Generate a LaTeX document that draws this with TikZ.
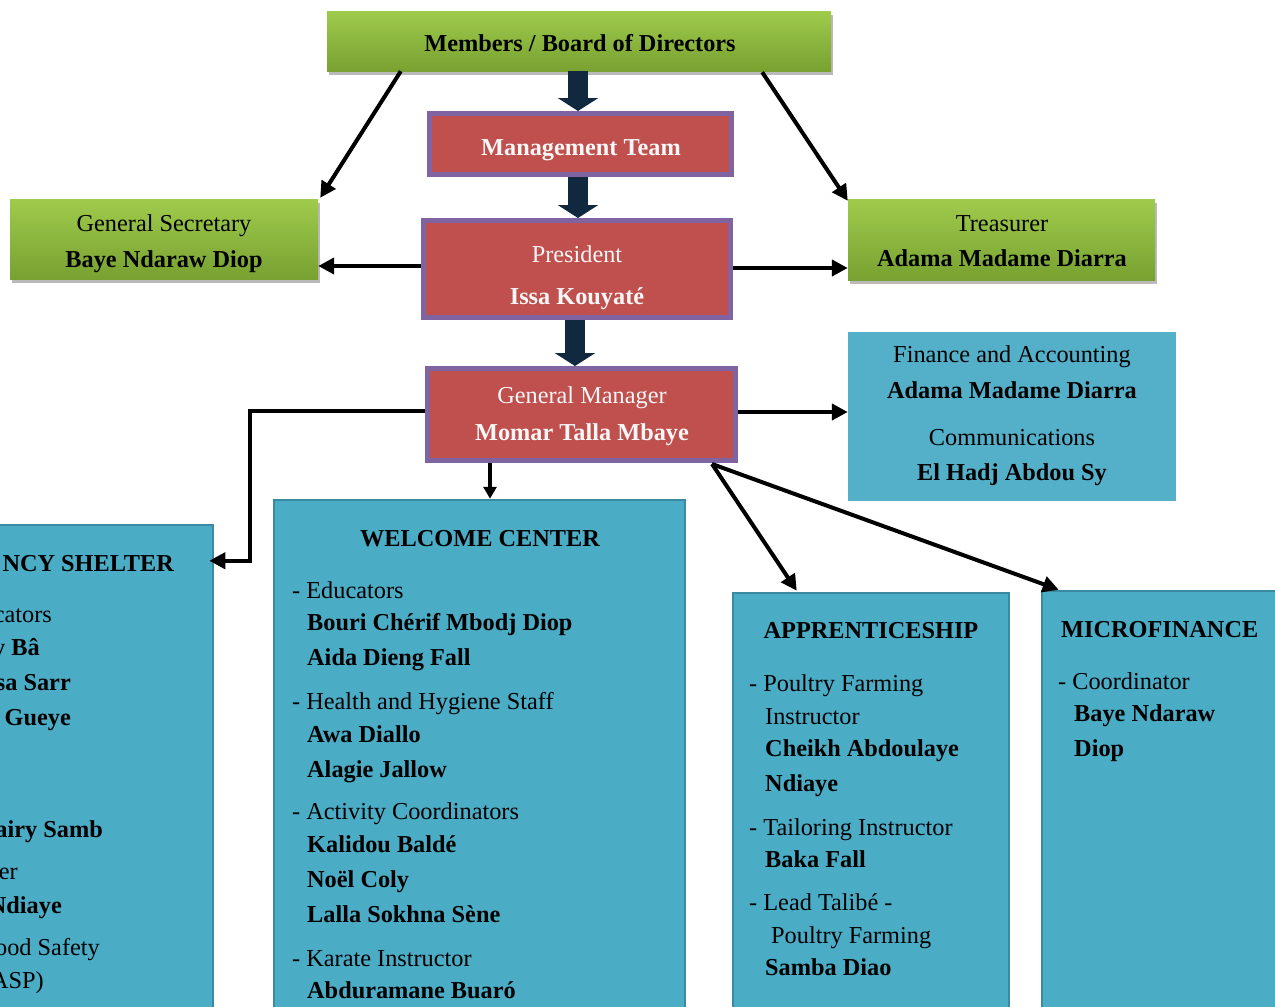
\documentclass[tikz,border=0pt]{standalone}
\usepackage{fontspec}
\setmainfont{Liberation Serif}
\usetikzlibrary{arrows.meta,shadows,calc}
\definecolor{grnTop}{HTML}{9FCB4C}
\definecolor{grnBot}{HTML}{78A131}
\definecolor{redF}{HTML}{C0504D}
\definecolor{purB}{HTML}{8064A2}
\definecolor{tealF}{HTML}{4BACC6}
\definecolor{tealB}{HTML}{3A8BA2}
\definecolor{navy}{HTML}{10293F}
\definecolor{txtW}{HTML}{F7F7F7}
\tikzset{
  greenbox/.style={rectangle, inner sep=0, top color=grnTop, bottom color=grnBot, draw=none,
    drop shadow={shadow xshift=2pt, shadow yshift=-3.5pt, fill=black!45, opacity=.6}},
  redbox/.style={rectangle, inner sep=0, fill=redF, draw=purB, line width=5pt,
    drop shadow={shadow xshift=2pt, shadow yshift=-2.5pt, fill=black!40, opacity=.5}},
  tealbox/.style={rectangle, inner sep=0, fill=tealF, draw=tealB, line width=2.5pt},
  finbox/.style={rectangle, inner sep=0, fill=tealF!95!white, draw=none},
  tn/.style={inner sep=0, anchor=base, font=\fontsize{24.3}{29}\selectfont},
  tb/.style={tn, font=\fontsize{24.3}{29}\selectfont\bfseries},
  lw/.style={anchor=base west},
  le/.style={anchor=base east},
  blk/.style={draw=navy, line width=20pt, -{Triangle[length=13pt,width=40pt]}},
  conn/.style={draw=black, line width=4pt, -{Triangle[length=16pt,width=16pt]}},
  thinconn/.style={draw=black, line width=3.2pt, -{Triangle[length=12pt,width=13pt]}},
}
\begin{document}
\begin{tikzpicture}[x=1pt,y=-1pt]
\useasboundingbox (0,0) rectangle (1275,1007);
\clip (0,0) rectangle (1275,1007);
% ---------- boxes ----------
\node[greenbox, minimum width=504pt, minimum height=60pt] (members) at (579,41) {};
\node[redbox, minimum width=302pt, minimum height=61pt] (mgmt) at (580.5,144) {};
\node[redbox, minimum width=307pt, minimum height=97pt] (pres) at (577,269) {};
\node[redbox, minimum width=308pt, minimum height=92pt] (gm) at (581.5,414.5) {};
\node[greenbox, minimum width=308pt, minimum height=80pt] (gs) at (164,239) {};
\node[greenbox, minimum width=307pt, minimum height=81pt] (treas) at (1001.5,239.5) {};
\node[finbox, minimum width=328pt, minimum height=169pt] (fin) at (1012,416.5) {};
\node[tealbox, minimum width=233pt, minimum height=505pt] (shelter) at (96.5,777.5) {};
\node[tealbox, minimum width=411pt, minimum height=530pt] (welcome) at (479.5,765) {};
\node[tealbox, minimum width=276pt, minimum height=437pt] (appr) at (871,811.5) {};
\node[tealbox, minimum width=248pt, minimum height=439pt] (micro) at (1166,810.5) {};
% ---------- top texts ----------
\node[tb] (tmembers) at (580,51) {Members / Board of Directors};
\node[tb, text=txtW] (tmgmt) at (581,155) {Management Team};
\node[tn, text=txtW] (tpres1) at (577,262) {President};
\node[tb, text=txtW] (tpres2) at (577,304) {Issa Kouyaté};
\node[tn, text=txtW] (tgm1) at (582,403) {General Manager};
\node[tb, text=txtW] (tgm2) at (582,440) {Momar Talla Mbaye};
\node[tn] (tgs1) at (164,231) {General Secretary};
\node[tb] (tgs2) at (164,267) {Baye Ndaraw Diop};
\node[tn] (ttr1) at (1002,231) {Treasurer};
\node[tb] (ttr2) at (1002,266) {Adama Madame Diarra};
\node[tn] (tfin1) at (1012,362) {Finance and Accounting};
\node[tb] (tfin2) at (1012,398) {Adama Madame Diarra};
\node[tn] (tfin3) at (1012,445) {Communications};
\node[tb] (tfin4) at (1012,480) {El Hadj Abdou Sy};
% ---------- shelter (cropped by the picture edge, as in the reference) ----------
\node[tb, le] (sh0) at (174,571) {NCY SHELTER};
\node[tn, le] (sh1) at (52,622) {cators};
\node[tb, le] (sh2) at (40,655) {y Bâ};
\node[tb, le] (sh3) at (71,690) {sa Sarr};
\node[tb, le] (sh4) at (71,725) {Gueye};
\node[tb, le] (sh5) at (103,837) {airy Samb};
\node[tn, le] (sh6) at (18,879) {er};
\node[tb, le] (sh7) at (62,913) {Ndiaye};
\node[tn, le] (sh8) at (100,955) {ood Safety};
\node[tn, le] (sh9) at (44,988) {ASP)};
% ---------- welcome center ----------
\node[tb] (wc0) at (480,546) {WELCOME CENTER};
\node[tn, lw] (wc1) at (292,598) {- Educators};
\node[tb, lw] (wc2) at (307,630) {Bouri Chérif Mbodj Diop};
\node[tb, lw] (wc3) at (307,665) {Aida Dieng Fall};
\node[tn, lw] (wc4) at (292,709) {- Health and Hygiene Staff};
\node[tb, lw] (wc5) at (307,742) {Awa Diallo};
\node[tb, lw] (wc6) at (307,777) {Alagie Jallow};
\node[tn, lw] (wc7) at (292,819) {- Activity Coordinators};
\node[tb, lw] (wc8) at (307,852) {Kalidou Baldé};
\node[tb, lw] (wc9) at (307,887) {Noël Coly};
\node[tb, lw] (wc10) at (307,922) {Lalla Sokhna Sène};
\node[tn, lw] (wc11) at (292,966) {- Karate Instructor};
\node[tb, lw] (wc12) at (307,998) {Abduramane Buaró};
% ---------- apprenticeship ----------
\node[tb] (ap0) at (871,638) {APPRENTICESHIP};
\node[tn, lw] (ap1) at (749,691) {- Poultry Farming};
\node[tn, lw] (ap2) at (765,724) {Instructor};
\node[tb, lw] (ap3) at (765,756) {Cheikh Abdoulaye};
\node[tb, lw] (ap4) at (765,791) {Ndiaye};
\node[tn, lw] (ap5) at (749,835) {- Tailoring Instructor};
\node[tb, lw] (ap6) at (765,867) {Baka Fall};
\node[tn, lw] (ap7) at (749,910) {- Lead Talibé -};
\node[tn, lw] (ap8) at (771,943) {Poultry Farming};
\node[tb, lw] (ap9) at (765,975) {Samba Diao};
% ---------- microfinance ----------
\node[tb, lw] (mf0) at (1061,637) {MICROFINANCE};
\node[tn, lw] (mf1) at (1058,689) {- Coordinator};
\node[tb, lw] (mf2) at (1074,721) {Baye Ndaraw};
\node[tb, lw] (mf3) at (1074,756) {Diop};
% ---------- block arrows ----------
\coordinate (b1) at ($(members.south)+(-1,0)$);
\draw[blk] (b1) -- (b1 |- mgmt.north);
\coordinate (b2) at ($(mgmt.south)+(-2.5,0)$);
\draw[blk] (b2) -- (b2 |- pres.north);
\coordinate (b3) at ($(pres.south)+(-2,0)$);
\draw[blk] (b3) -- (b3 |- gm.north);
% ---------- black connectors ----------
\coordinate (m1) at ($(members.south west)+(74,0)$);
\coordinate (m1e) at ($(gs.north east)+(2,-1)$);
\draw[conn] (m1) -- (m1e);
\coordinate (m2) at ($(members.south east)+(-69,1)$);
\coordinate (m2e) at ($(treas.north west)+(0,2)$);
\draw[conn] (m2) -- (m2e);
\coordinate (pw) at ($(pres.west)+(0,-3)$);
\draw[conn] (pw) -- (pw -| gs.east);
\coordinate (pe) at ($(pres.east)+(0,-1)$);
\draw[conn] (pe) -- (pe -| treas.west);
\coordinate (ge) at ($(gm.east)+(0,-2.5)$);
\draw[conn] (ge) -- (ge -| fin.west);
\coordinate (gw) at ($(gm.west)+(0,-3.5)$);
\coordinate (shin) at ($(shelter.north east)+(-5,37)$);
\coordinate (shbend) at ($(shin)+(41,0)$);
\draw[conn] (gw) -| (shbend) -- (shin);
\coordinate (gs1) at ($(gm.south west)+(65,0)$);
\draw[thinconn] (gs1) -- (gs1 |- welcome.north);
\coordinate (gse) at ($(gm.south east)+(-26,1)$);
\coordinate (apin) at ($(appr.north west)+(65,-1)$);
\coordinate (mfin) at ($(micro.north west)+(18,0)$);
\draw[conn] (gse) -- (apin);
\draw[conn] (gse) -- (mfin);
\end{tikzpicture}
\end{document}
